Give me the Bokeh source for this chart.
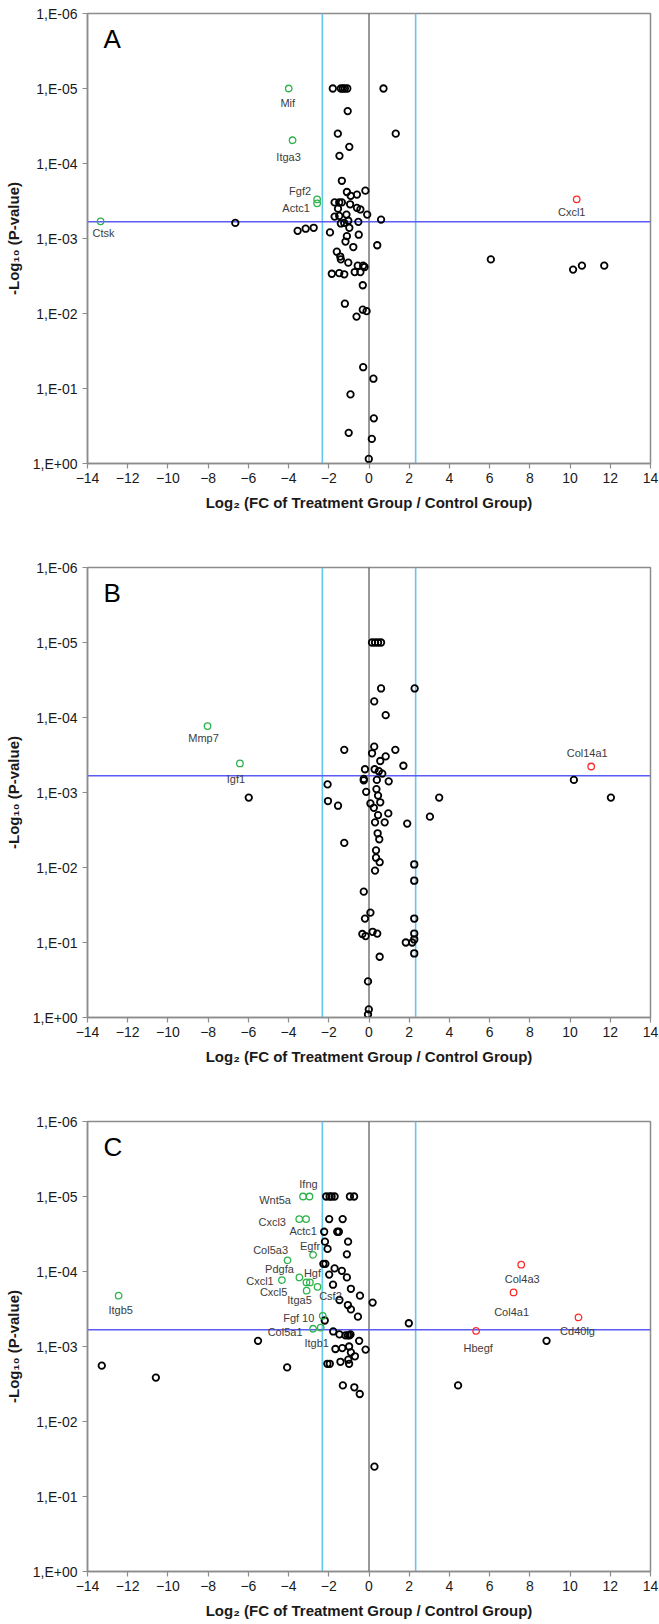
from bokeh.plotting import figure
from bokeh.models import Range1d, FixedTicker, CustomJSTickFormatter, Span, Label
from bokeh.layouts import column
from bokeh.embed import file_html
from bokeh.resources import INLINE
from bokeh.core.properties import value

# ---------------- data ----------------
x_ticks = [-14, -12, -10, -8, -6, -4, -2, 0, 2, 4, 6, 8, 10, 12, 14]
y_ticks = [1e-6, 1e-5, 1e-4, 1e-3, 1e-2, 1e-1, 1.0]
y_tick_labels = ["1,E-06", "1,E-05", "1,E-04", "1,E-03", "1,E-02", "1,E-01", "1,E+00"]
x_title = "Log\u2082 (FC of Treatment Group / Control Group)"
y_title = "-Log\u2081\u2080 (P-value)"
p_cut = 6.0e-4
fc_cut = 2.32

# Panel A
a_black_fc = [-1.80, -1.40, -1.30, -1.20, -1.08, 0.72,
              -1.06, -1.55, 1.33, -0.98, -1.47, -1.35,
              -1.10, -0.60, -0.91, -0.18,
              -1.71, -1.48, -1.35, -0.94, -0.60, -0.43, -1.54,
              -0.09, -1.12, -1.71, -1.48, -0.53, 0.60, -1.03, -1.23, -1.40, -0.98,
              -6.65, -3.55, -3.15, -2.75, -1.94, -0.51, -1.10, -1.17, -0.78, 0.41,
              -1.60, -1.43, -1.40, -1.03, -0.56, -0.29, -0.22, -1.85, -1.48, -1.23, -0.71, -0.43,
              6.06, 10.15, 10.59, 11.70,
              -0.31, -1.20, -0.62, -0.31, -0.12,
              -0.29, 0.22, -0.92, 0.24, -1.01, 0.14, -0.01]
a_black_p = [1.0e-5, 1.0e-5, 1.0e-5, 1.0e-5, 1.0e-5, 1.0e-5,
             2.0e-5, 4.0e-5, 4.0e-5, 6.0e-5, 7.9e-5, 1.7e-4,
             2.4e-4, 2.6e-4, 2.7e-4, 2.3e-4,
             3.3e-4, 3.3e-4, 3.3e-4, 3.5e-4, 3.9e-4, 4.1e-4, 4.0e-4,
             4.8e-4, 4.8e-4, 5.1e-4, 5.0e-4, 6.0e-4, 5.6e-4, 5.8e-4, 6.2e-4, 6.3e-4, 7.2e-4,
             6.2e-4, 7.9e-4, 7.4e-4, 7.2e-4, 8.3e-4, 8.9e-4, 9.3e-4, 1.1e-3, 1.3e-3, 1.23e-3,
             1.5e-3, 1.74e-3, 1.9e-3, 2.1e-3, 2.3e-3, 2.3e-3, 2.4e-3, 2.95e-3, 2.9e-3, 3.0e-3, 2.8e-3, 2.8e-3,
             1.9e-3, 2.6e-3, 2.3e-3, 2.3e-3,
             4.2e-3, 7.4e-3, 1.1e-2, 8.9e-3, 9.3e-3,
             5.2e-2, 7.4e-2, 0.12, 0.25, 0.39, 0.47, 0.87]
a_green_gene = ["Mif", "Itga3", "Fgf2", "Actc1", "Ctsk"]
a_green_fc = [-3.99, -3.80, -2.58, -2.58, -13.35]
a_green_p = [1.0e-5, 4.9e-5, 3.4e-4, 3.0e-4, 5.9e-4]
a_red_gene = ["Cxcl1"]
a_red_fc = [10.33]
a_red_p = [3.0e-4]

# Panel B
b_black_fc = [0.15, 0.30, 0.45, 0.60,
              0.60, 2.27, 0.26, 0.83,
              0.26, -1.23, 0.15, 1.31, 0.56, 0.83, 1.71,
              -0.20, 0.28, 0.49, 0.66, -0.26, -0.26, 0.39, 0.98, 10.19,
              -2.06, -0.14, 0.37, 0.45, -5.98, 3.49, 12.03,
              -2.04, -1.54, 0.07, 0.56, 0.24, 0.96, 0.45, 3.03, 0.30, 0.78, 1.90,
              0.43, 0.51, -1.23, 0.35, 0.35, 0.53, 0.30, 2.25, 2.25,
              -0.26, 0.07, -0.20, 2.25, -0.33, -0.17, 0.18, 0.41, 2.25, 2.25, 1.83, 2.15, 2.25, 0.53,
              -0.05, -0.01, -0.05]
b_black_p = [1.0e-5, 1.0e-5, 1.0e-5, 1.0e-5,
             4.1e-5, 4.1e-5, 6.1e-5, 9.3e-5,
             2.45e-4, 2.7e-4, 3.0e-4, 2.7e-4, 3.8e-4, 3.3e-4, 4.4e-4,
             4.9e-4, 4.9e-4, 5.2e-4, 5.6e-4, 6.6e-4, 6.9e-4, 6.8e-4, 7.1e-4, 6.8e-4,
             7.8e-4, 9.8e-4, 9.0e-4, 1.1e-3, 1.17e-3, 1.17e-3, 1.17e-3,
             1.3e-3, 1.5e-3, 1.4e-3, 1.35e-3, 1.6e-3, 1.9e-3, 2.0e-3, 2.1e-3, 2.5e-3, 2.5e-3, 2.6e-3,
             3.5e-3, 4.2e-3, 4.7e-3, 5.9e-3, 7.4e-3, 8.5e-3, 1.1e-2, 9.1e-3, 1.5e-2,
             2.1e-2, 4.0e-2, 4.8e-2, 4.8e-2, 7.7e-2, 8.2e-2, 7.2e-2, 7.6e-2, 7.6e-2, 9.1e-2, 0.10, 0.10, 0.14, 0.155,
             0.33, 0.78, 0.91]
b_green_gene = ["Mmp7", "Igf1"]
b_green_fc = [-8.03, -6.42]
b_green_p = [1.3e-4, 4.1e-4]
b_red_gene = ["Col14a1"]
b_red_fc = [11.05]
b_red_p = [4.5e-4]

# Panel C
c_black_fc = [-2.13, -1.96, -1.86, -1.71, -0.95, -0.74,
              -1.98, -1.31, -1.58, -1.50,
              -2.19, -1.04, -2.06, -1.10,
              -2.27, -2.17, -1.71, -1.35, -1.98, -1.10,
              -1.79, -0.90, -0.45, -1.05, -0.90, 0.18,
              -0.55, -2.20, 1.98,
              -1.78, -1.47, -1.17, -1.05, -0.97, -0.92,
              8.83, -0.49, -5.52,
              -0.99, -1.67, -1.33, -0.17, -0.90, -0.70, -1.03, -1.42, -2.07, -1.95, -0.99,
              -13.29, -4.07, -10.60,
              -1.30, -0.73, -0.46, 4.43, 0.27]
c_black_p = [1.0e-5, 1.0e-5, 1.0e-5, 1.0e-5, 1.0e-5, 1.0e-5,
             2.0e-5, 2.0e-5, 2.95e-5, 2.95e-5,
             4.0e-5, 4.0e-5, 5.0e-5, 5.9e-5,
             7.9e-5, 7.9e-5, 9.1e-5, 9.8e-5, 1.1e-4, 1.2e-4,
             1.5e-4, 1.7e-4, 2.1e-4, 2.8e-4, 3.2e-4, 2.6e-4,
             4.0e-4, 4.5e-4, 4.9e-4,
             6.3e-4, 6.9e-4, 7.1e-4, 7.1e-4, 7.1e-4, 6.9e-4,
             8.4e-4, 8.4e-4, 8.4e-4,
             1.0e-3, 1.08e-3, 1.05e-3, 1.1e-3, 1.2e-3, 1.35e-3, 1.5e-3, 1.6e-3, 1.7e-3, 1.7e-3, 1.7e-3,
             1.8e-3, 1.9e-3, 2.6e-3,
             3.3e-3, 3.5e-3, 4.3e-3, 3.3e-3, 4.0e-2]
c_named_black_gene = ["Actc1", "Csf2"]
c_named_black_fc = [-2.23, -1.47]
c_named_black_p = [2.95e-5, 2.4e-4]
c_green_gene = ["Ifng", "Wnt5a", "Cxcl3", "", "Egfr", "Col5a3", "Pdgfa", "Cxcl1", "Hgf", "",
                "Itga5", "Cxcl5", "Fgf 10", "Col5a1", "Itgb1", "Itgb5"]
c_green_fc = [-2.96, -3.28, -3.47, -3.13, -2.78, -4.05, -3.46, -4.33, -3.11, -2.94,
              -2.56, -3.10, -2.30, -2.78, -2.40, -12.45]
c_green_p = [1.0e-5, 1.0e-5, 2.0e-5, 2.0e-5, 6.0e-5, 7.1e-5, 1.2e-4, 1.3e-4, 1.4e-4, 1.4e-4,
             1.6e-4, 1.8e-4, 3.9e-4, 5.8e-4, 5.6e-4, 2.1e-4]
c_red_gene = ["Col4a3", "Col4a1", "Cd40lg", "Hbegf"]
c_red_fc = [7.57, 7.19, 10.42, 5.33]
c_red_p = [8.1e-5, 1.9e-4, 4.1e-4, 6.2e-4]

# ---------------- layout / style ----------------
FONT = "Liberation Sans"
GREEN = "#2db34a"
RED = "#ff2b2b"
LABEL_OFFSETS = {  # pixel offsets (dx, dy; dy down) of gene labels from their points
    "A": {"Mif": (-1, 14), "Itga3": (-4, 17), "Fgf2": (-17, -12), "Actc1": (-21, 9),
          "Ctsk": (3, 12), "Cxcl1": (-5, 13)},
    "B": {"Mmp7": (-4, 12), "Igf1": (-4, 16), "Col14a1": (-4, -13)},
    "C": {"Ifng": (-1, -13), "Wnt5a": (-28, 3), "Cxcl3": (-27, 3), "Actc1": (-21, -1),
          "Col5a3": (-17, -10), "Egfr": (-3, -9), "Pdgfa": (-20, -8), "Cxcl1": (-22, 1),
          "Hgf": (6, -9), "Cxcl5": (-33, 1), "Itga5": (-18, 13), "Csf2": (-9, -4),
          "Fgf 10": (-24, 2), "Col5a1": (-28, 3), "Itgb1": (-4, 15), "Itgb5": (2, 14),
          "Col4a3": (1, 14), "Col4a1": (-2, 20), "Cd40lg": (-1, 14), "Hbegf": (2, 17)},
}


def make_panel(letter, black, named_black, green, red, height, bottom):
    p = figure(width=659, height=height, x_range=Range1d(-14, 14), y_range=Range1d(1.0, 1e-6),
               y_axis_type="log", output_backend="svg", toolbar_location=None,
               min_border_left=87, min_border_right=9, min_border_top=13, min_border_bottom=bottom)
    p.grid.visible = False
    p.outline_line_color = "#8c8c8c"
    p.outline_line_width = 1.5
    p.background_fill_color = "white"
    p.border_fill_color = "white"

    p.xaxis.ticker = FixedTicker(ticks=x_ticks, minor_ticks=[])
    p.yaxis.ticker = FixedTicker(ticks=y_ticks, minor_ticks=[])
    p.yaxis.formatter = CustomJSTickFormatter(args=dict(vals=y_ticks, labs=y_tick_labels), code="""
        let best = 0, d = Infinity;
        for (let i = 0; i < vals.length; i++) {
            const e = Math.abs(Math.log10(vals[i]) - Math.log10(tick));
            if (e < d) { d = e; best = i; }
        }
        return labs[best];
    """)
    for ax in (p.xaxis[0], p.yaxis[0]):
        ax.axis_line_color = "#8c8c8c"
        ax.axis_line_width = 1.5
        ax.major_tick_line_color = "#8c8c8c"
        ax.major_tick_line_width = 1.2
        ax.major_tick_out = 5
        ax.major_tick_in = 0
        ax.minor_tick_line_color = None
        ax.major_label_text_font = FONT
        ax.major_label_text_font_size = "14px"
        ax.major_label_text_color = "#1a1a1a"
        ax.axis_label_text_font = FONT
        ax.axis_label_text_font_size = "15px"
        ax.axis_label_text_font_style = "bold"
        ax.axis_label_text_color = "#1a1a1a"
    p.xaxis.major_label_standoff = 4
    p.xaxis.axis_label_standoff = 8
    p.yaxis.major_label_standoff = 5
    p.yaxis.axis_label_standoff = 8
    p.xaxis.axis_label = x_title
    p.yaxis.axis_label = y_title

    for loc, col, w in [(-fc_cut, "#63c6ee", 1.6), (fc_cut, "#63c6ee", 1.6), (0, "#333333", 1.0)]:
        p.add_layout(Span(location=loc, dimension="height", line_color=col, line_width=w, level="underlay"))
    p.add_layout(Span(location=p_cut, dimension="width", line_color="#5b5bf5", line_width=1.5, level="underlay"))

    bfc, bp = black
    p.scatter(bfc, bp, marker="circle", size=6.5, fill_alpha=0, line_color="black", line_width=1.8)
    labelled = []
    if named_black is not None:
        g, fc, pv = named_black
        p.scatter(fc, pv, marker="circle", size=6.5, fill_alpha=0, line_color="black", line_width=1.8)
        labelled += list(zip(g, fc, pv))
    for (g, fc, pv), col in [(green, GREEN), (red, RED)]:
        p.scatter(fc, pv, marker="circle", size=6.5, fill_alpha=0, line_color=col, line_width=1.3)
        labelled += list(zip(g, fc, pv))

    offs = LABEL_OFFSETS[letter]
    lab = [(g, fc, pv) + offs[g] for g, fc, pv in labelled if g]
    p.text(x=[t[1] for t in lab], y=[t[2] for t in lab], text=[t[0] for t in lab],
           x_offset=[t[3] for t in lab], y_offset=[t[4] for t in lab],
           text_font=value(FONT), text_font_size="11px", text_color="#3c3c3c",
           text_align="center", text_baseline="middle")

    p.add_layout(Label(x=-13.2, y=10 ** (-6 + 10 / 75), text=letter, text_font=FONT,
                       text_font_size="26px", text_color="black",
                       text_align="left", text_baseline="top"))
    return p


pA = make_panel("A", (a_black_fc, a_black_p), None,
                (a_green_gene, a_green_fc, a_green_p), (a_red_gene, a_red_fc, a_red_p), 554, 91)
pB = make_panel("B", (b_black_fc, b_black_p), None,
                (b_green_gene, b_green_fc, b_green_p), (b_red_gene, b_red_fc, b_red_p), 554, 91)
pC = make_panel("C", (c_black_fc, c_black_p), (c_named_black_gene, c_named_black_fc, c_named_black_p),
                (c_green_gene, c_green_fc, c_green_p), (c_red_gene, c_red_fc, c_red_p), 516, 53)

layout = column(pA, pB, pC, spacing=0)
open("out.html", "w").write(file_html(layout, INLINE))
